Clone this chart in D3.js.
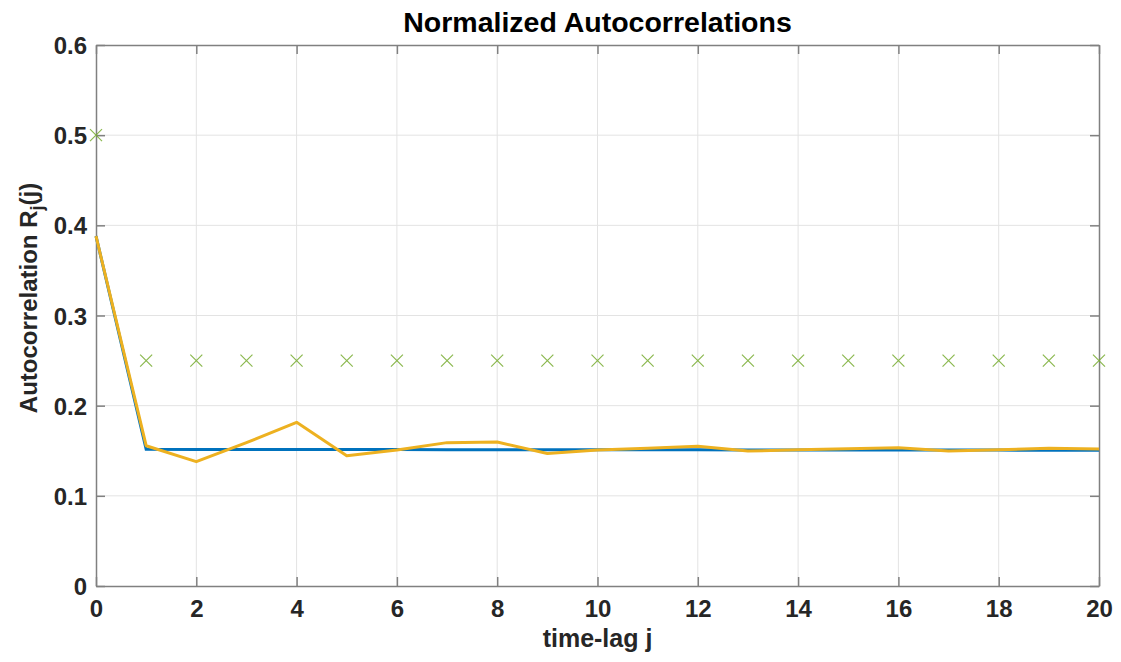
<!DOCTYPE html>
<html>
<head>
<meta charset="utf-8">
<script src="https://cdn.jsdelivr.net/npm/d3@7"></script>
<style>
  body { margin: 0; background: #fff; }
  svg { display: block; font-family: "Liberation Sans", Arial, sans-serif; }
</style>
</head>
<body>
<svg></svg>
<script>
const margin = {t: 45, r: 22, b: 76, l: 96};
const size = {w: 1121, h: 662};
const svg = d3.select('svg');

// lags and the three series
const lags = d3.range(0, 21);
const theory = [0.388, 0.1516, 0.1515, 0.1515, 0.1514, 0.1514, 0.1513, 0.1512, 0.1512, 0.1511, 0.1511,
                0.1510, 0.1510, 0.1509, 0.1509, 0.1508, 0.1508, 0.1507, 0.1507, 0.1506, 0.1506];
const estimate = [0.388, 0.1556, 0.1379, 0.159, 0.1815, 0.1445, 0.1508, 0.159, 0.1597, 0.147, 0.1508,
                  0.1527, 0.155, 0.1497, 0.151, 0.1523, 0.1534, 0.1497, 0.151, 0.1527, 0.152];
const bound = [0.5, 0.25, 0.25, 0.25, 0.25, 0.25, 0.25, 0.25, 0.25, 0.25, 0.25,
               0.25, 0.25, 0.25, 0.25, 0.25, 0.25, 0.25, 0.25, 0.25, 0.25];
const xTicks = [0, 2, 4, 6, 8, 10, 12, 14, 16, 18, 20];
const yTicks = [0, 0.1, 0.2, 0.3, 0.4, 0.5, 0.6];

svg.attr('width', size.w).attr('height', size.h);

const w = size.w - margin.l - margin.r;
const h = size.h - margin.t - margin.b;

const x = d3.scaleLinear().domain([0, 20]).range([0, w]);
const y = d3.scaleLinear().domain([0, 0.6]).range([h, 0]);

const g = svg.append('g').attr('transform', `translate(${margin.l},${margin.t})`);

// grid
g.append('g').selectAll('line')
  .data(xTicks.slice(1, -1))
  .join('line')
  .attr('x1', d => x(d)).attr('x2', d => x(d))
  .attr('y1', 0).attr('y2', h)
  .attr('stroke', '#e3e3e3').attr('stroke-width', 1);
g.append('g').selectAll('line')
  .data(yTicks.slice(1, -1))
  .join('line')
  .attr('y1', d => y(d)).attr('y2', d => y(d))
  .attr('x1', 0).attr('x2', w)
  .attr('stroke', '#e3e3e3').attr('stroke-width', 1);

// axes (ticks point inward, box on all sides)
const tickLen = 9;
const axisColor = '#808080';
const fmtY = d => d === 0 ? '0' : d3.format('.1f')(d);

const xAxis = g.append('g').attr('transform', `translate(0,${h})`)
  .call(d3.axisBottom(x).tickValues(xTicks).tickSizeInner(-tickLen).tickSizeOuter(0).tickPadding(14));
const yAxis = g.append('g')
  .call(d3.axisLeft(y).tickValues(yTicks).tickFormat(fmtY).tickSizeInner(-tickLen).tickSizeOuter(0).tickPadding(9));
const xTop = g.append('g')
  .call(d3.axisTop(x).tickValues(xTicks).tickSizeInner(-tickLen).tickSizeOuter(0).tickFormat(''));
const yRight = g.append('g').attr('transform', `translate(${w},0)`)
  .call(d3.axisRight(y).tickValues(yTicks).tickSizeInner(-tickLen).tickSizeOuter(0).tickFormat(''));

[xAxis, yAxis, xTop, yRight].forEach(a => {
  a.select('.domain').attr('stroke', axisColor).attr('stroke-width', 1.5);
  a.selectAll('.tick line').attr('stroke', axisColor).attr('stroke-width', 1.5);
  a.selectAll('.tick text')
    .attr('fill', '#262626')
    .style('font-size', '24px')
    .style('font-weight', 'bold');
});
yAxis.selectAll('.tick text').attr('dy', '0.36em');
xAxis.selectAll('.tick text').attr('dy', '0.72em');

// lines
const line = d3.line().x((d, i) => x(lags[i])).y(d => y(d));

g.append('path')
  .datum(theory)
  .attr('d', line)
  .attr('fill', 'none')
  .attr('stroke', '#0072BD')
  .attr('stroke-width', 3);

g.append('path')
  .datum(estimate)
  .attr('d', line)
  .attr('fill', 'none')
  .attr('stroke', '#EDB120')
  .attr('stroke-width', 3)
  .attr('stroke-linejoin', 'round');

// x markers
const m = 6;
g.append('g').selectAll('path')
  .data(bound)
  .join('path')
  .attr('d', (d, i) => {
    const cx = x(lags[i]), cy = y(d);
    return `M${cx - m},${cy - m}L${cx + m},${cy + m}M${cx - m},${cy + m}L${cx + m},${cy - m}`;
  })
  .attr('stroke', '#77AC30')
  .attr('stroke-opacity', 0.85)
  .attr('stroke-width', 1.2)
  .attr('fill', 'none');

// title and labels
svg.append('text')
  .attr('x', margin.l + w / 2)
  .attr('y', 32)
  .attr('text-anchor', 'middle')
  .style('font-size', '28.5px')
  .style('font-weight', 'bold')
  .attr('fill', '#000')
  .text('Normalized Autocorrelations');

svg.append('text')
  .attr('x', margin.l + w / 2)
  .attr('y', 647)
  .attr('text-anchor', 'middle')
  .style('font-size', '25px')
  .style('font-weight', 'bold')
  .attr('fill', '#262626')
  .text('time-lag j');

const yl = svg.append('text')
  .attr('transform', 'translate(37,298) rotate(-90)')
  .attr('text-anchor', 'middle')
  .style('font-size', '24px')
  .style('font-weight', 'bold')
  .attr('fill', '#262626');
yl.append('tspan').text('Autocorrelation R');
yl.append('tspan').attr('dy', 6).style('font-size', '18px').text('j');
yl.append('tspan').attr('dy', -6).text('(j)');
</script>
</body>
</html>
